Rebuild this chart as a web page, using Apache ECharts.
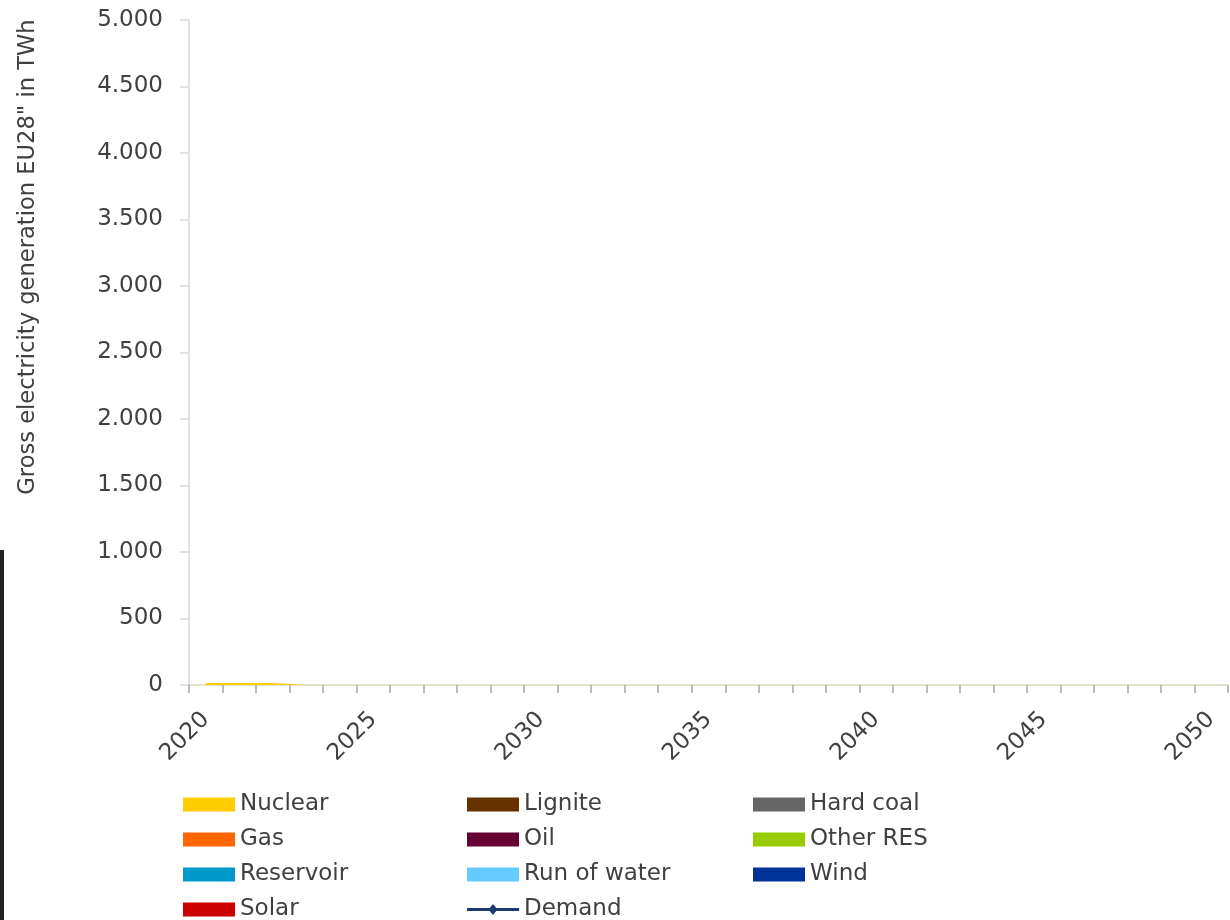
<!DOCTYPE html>
<html><head><meta charset="utf-8">
<script src="https://cdn.jsdelivr.net/npm/echarts@6/dist/echarts.min.js"></script>
<style>html,body{margin:0;padding:0;background:#fff}#c{width:1230px;height:920px}</style>
</head><body><div id="c"></div>
<script>
const years = [];
for (let y = 2020; y <= 2050; y++) years.push(String(y));
const yTicks = [0, 500, 1000, 1500, 2000, 2500, 3000, 3500, 4000, 4500, 5000];
const nuclear   = [15,15,15,0,0,0,0,0,0,0,0,0,0,0,0,0,0,0,0,0,0,0,0,0,0,0,0,0,0,0,0];
const lignite   = [0,0,0,0,0,0,0,0,0,0,0,0,0,0,0,0,0,0,0,0,0,0,0,0,0,0,0,0,0,0,0];
const hardCoal  = [0,0,0,0,0,0,0,0,0,0,0,0,0,0,0,0,0,0,0,0,0,0,0,0,0,0,0,0,0,0,0];
const gas       = [0,0,0,0,0,0,0,0,0,0,0,0,0,0,0,0,0,0,0,0,0,0,0,0,0,0,0,0,0,0,0];
const oil       = [0,0,0,0,0,0,0,0,0,0,0,0,0,0,0,0,0,0,0,0,0,0,0,0,0,0,0,0,0,0,0];
const otherRES  = [0,0,0,0,0,0,0,0,0,0,0,0,0,0,0,0,0,0,0,0,0,0,0,0,0,0,0,0,0,0,0];
const reservoir = [0,0,0,0,0,0,0,0,0,0,0,0,0,0,0,0,0,0,0,0,0,0,0,0,0,0,0,0,0,0,0];
const runOfWater= [0,0,0,0,0,0,0,0,0,0,0,0,0,0,0,0,0,0,0,0,0,0,0,0,0,0,0,0,0,0,0];
const wind      = [0,0,0,0,0,0,0,0,0,0,0,0,0,0,0,0,0,0,0,0,0,0,0,0,0,0,0,0,0,0,0];
const solar     = [0,0,0,0,0,0,0,0,0,0,0,0,0,0,0,0,0,0,0,0,0,0,0,0,0,0,0,0,0,0,0];
const demand    = [null,null,null,null,null,null,null,null,null,null,null,null,null,null,null,null,null,null,null,null,null,null,null,null,null,null,null,null,null,null,null];

const FONT = 'DejaVu Sans';
const FS = 23;
const TXT = '#404040';
const NAVY = '#1c3a6b';
const areaDefs = [
  ['Nuclear', nuclear, '#ffcc00'],
  ['Lignite', lignite, '#663300'],
  ['Hard coal', hardCoal, '#666666'],
  ['Gas', gas, '#ff6600'],
  ['Oil', oil, '#660033'],
  ['Other RES', otherRES, '#99cc00'],
  ['Reservoir', reservoir, '#0099cc'],
  ['Run of water', runOfWater, '#66ccff'],
  ['Wind', wind, '#003399'],
  ['Solar', solar, '#cc0000']
];
const series = areaDefs.map(([name, data, color]) => ({
  name, type: 'line', stack: 'gen', data, color,
  symbol: 'none', showSymbol: false,
  lineStyle: { width: 0 },
  areaStyle: { color, opacity: 1 },
  emphasis: { disabled: true }
}));
series.push({
  name: 'Demand', type: 'line', data: demand, color: NAVY,
  symbol: 'diamond', symbolSize: 10,
  lineStyle: { width: 3, color: NAVY },
  itemStyle: { color: NAVY }
});

const legendBase = {
  orient: 'vertical', itemWidth: 52, itemHeight: 14, itemGap: 12, top: 788, height: 200,
  textStyle: { fontFamily: FONT, fontSize: FS, color: TXT },
  selectedMode: false
};
const rectItems = names => names.map(n => ({ name: n, icon: 'rect' }));

const chart = echarts.init(document.getElementById('c'), null, { renderer: 'canvas' });
chart.setOption({
  animation: false,
  backgroundColor: '#ffffff',
  grid: { left: 189, right: 2, top: 20, bottom: 235, containLabel: false },
  legend: [
    Object.assign({}, legendBase, { left: 178, data: rectItems(['Nuclear','Gas','Reservoir','Solar']) }),
    Object.assign({}, legendBase, { left: 462, data: rectItems(['Lignite','Oil','Run of water']) }),
    Object.assign({}, legendBase, { left: 748, data: rectItems(['Hard coal','Other RES','Wind']) }),
    Object.assign({}, legendBase, { left: 462, top: 893, itemHeight: 11,
      data: [{ name: 'Demand', icon: 'path://M0,4H52V7H0Z M26,0L30.5,5.5L26,11L21.5,5.5Z', itemStyle: { color: NAVY } }] })
  ],
  xAxis: {
    type: 'category', data: years, boundaryGap: true,
    axisLine: { lineStyle: { color: '#dcd7bf', width: 1.5 } },
    axisTick: { show: true, interval: 0, length: 8, lineStyle: { color: '#a6a6a6', width: 1.5 } },
    axisLabel: { interval: 4, rotate: 45, margin: 31, fontFamily: FONT, fontSize: FS, color: TXT }
  },
  yAxis: {
    type: 'value', min: yTicks[0], max: yTicks[yTicks.length - 1], interval: yTicks[1] - yTicks[0],
    splitLine: { show: false },
    axisLine: { show: true, lineStyle: { color: '#d9d9d9', width: 1.5 } },
    axisTick: { show: true, inside: false, length: 9, lineStyle: { color: '#d9d9d9', width: 1.5 } },
    axisLabel: {
      margin: 26, fontFamily: FONT, fontSize: FS, color: TXT,
      formatter: v => String(v).replace(/\B(?=(\d{3})+(?!\d))/g, '.')
    }
  },
  graphic: [
    { type: 'text', x: 28, y: 257, rotation: Math.PI / 2,
      style: { text: 'Gross electricity generation EU28" in TWh', fontFamily: FONT, fontSize: 22.6,
               fill: TXT, align: 'center', verticalAlign: 'middle' } },
    { type: 'rect', shape: { x: 0, y: 550, width: 4, height: 370 }, style: { fill: '#222222' } }
  ],
  series
});
</script></body></html>
